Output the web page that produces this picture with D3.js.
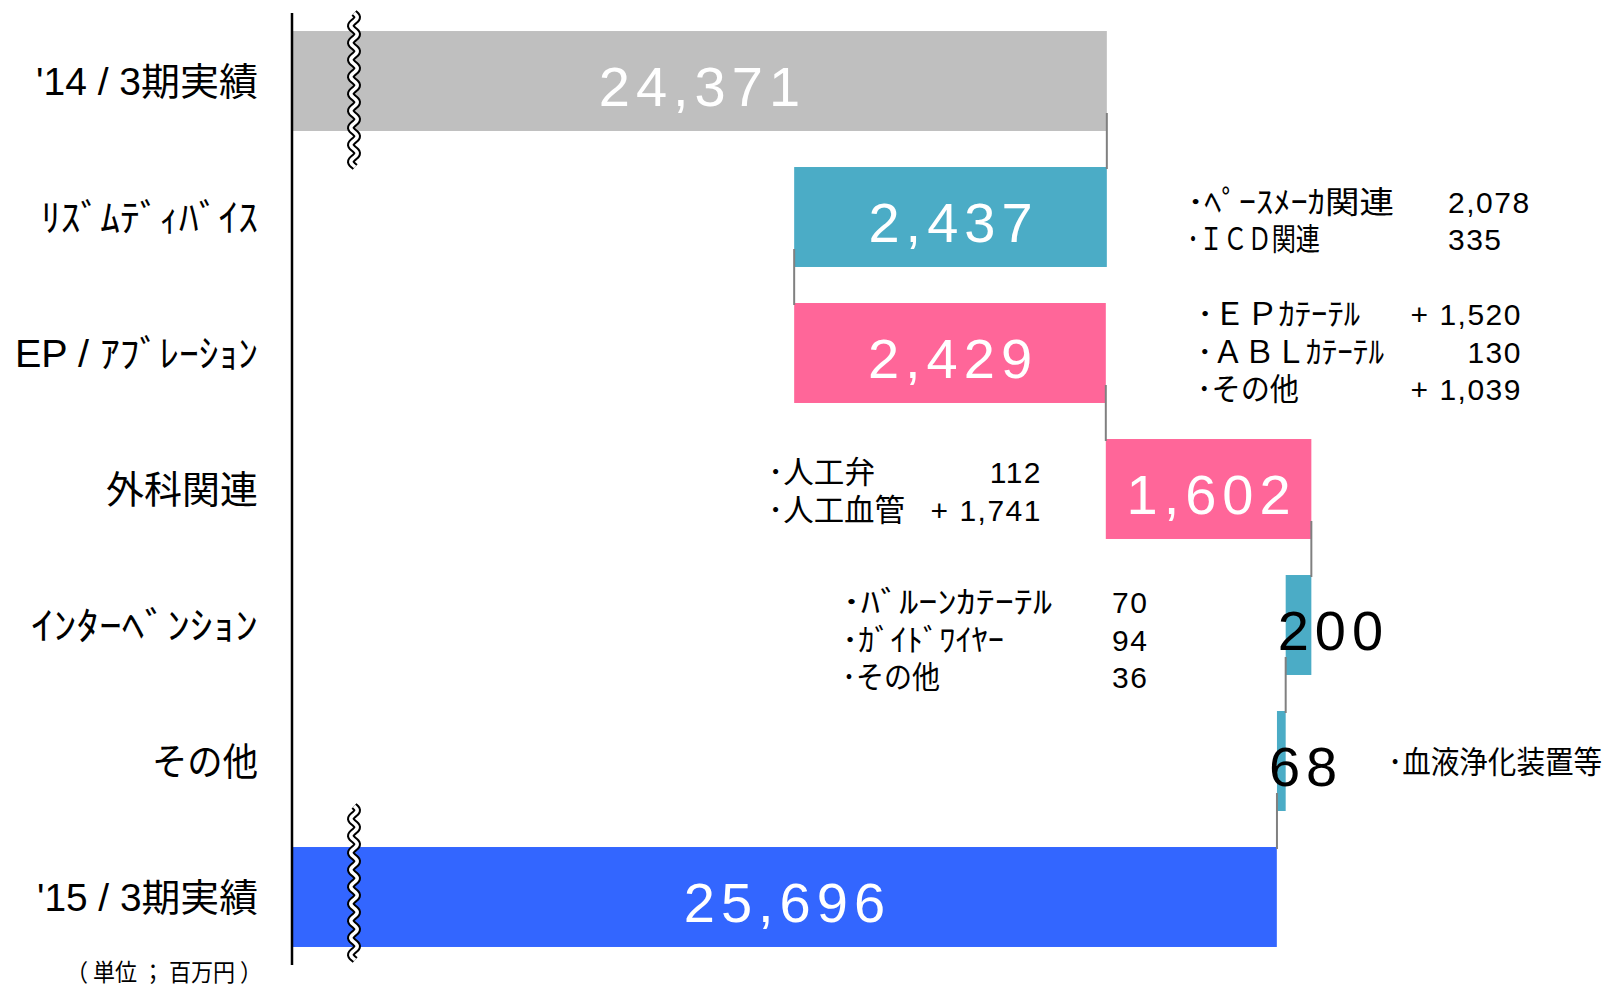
<!DOCTYPE html>
<html>
<head>
<meta charset="utf-8">
<script src="https://cdn.jsdelivr.net/npm/d3@7"></script>
<style>
  html, body { margin: 0; padding: 0; background: #ffffff; }
  svg { display: block; }
</style>
</head>
<body>
<svg id="chart" width="1608" height="987"></svg>
<script>
// ---------------- DATA ----------------
const categories = ["'14 / 3期実績", "ﾘｽﾞﾑﾃﾞｨﾊﾞｲｽ", "EP / ｱﾌﾞﾚｰｼｮﾝ", "外科関連", "ｲﾝﾀｰﾍﾞﾝｼｮﾝ", "その他", "'15 / 3期実績"];
const kinds = ["total", "decrease", "increase", "increase", "decrease", "decrease", "total"];
const values = [24371, 2437, 2429, 1602, 200, 68, 25696];
const subNames = [
  [],
  ["･ﾍﾟｰｽﾒｰｶ関連", "･ＩＣＤ関連"],
  ["･ＥＰｶﾃｰﾃﾙ", "･ＡＢＬｶﾃｰﾃﾙ", "･その他"],
  ["･人工弁", "･人工血管"],
  ["･ﾊﾞﾙｰﾝｶﾃｰﾃﾙ", "･ｶﾞｲﾄﾞﾜｲﾔｰ", "･その他"],
  ["･血液浄化装置等"],
  []
];
const subValues = [
  [],
  ["2,078", "335"],
  ["+ 1,520", "130", "+ 1,039"],
  ["112", "+ 1,741"],
  ["70", "94", "36"],
  [""],
  []
];
const unitLabel = "（ 単位 ； 百万円 ）";

// ---------------- STYLE / LAYOUT ----------------
const colors = { total0: "#bfbfbf", total1: "#3366ff", increase: "#ff6699", decrease: "#4bacc6" };
const svg = d3.select("#chart");

const x = d3.scaleLinear().domain([18020, 28000]).range([292, 292 + 9980 * 0.1283]);
const y = d3.scaleBand().domain(categories).range([13, 965]).paddingInner(0.265).paddingOuter(0.1325);
const bw = y.bandwidth();

// running totals
let cum = 0;
const bars = categories.map((c, i) => {
  let start, end;
  if (kinds[i] === "total") { start = x.domain()[0]; end = values[i]; cum = values[i]; }
  else if (kinds[i] === "increase") { start = cum; end = cum + values[i]; cum = end; }
  else { start = cum; end = cum - values[i]; cum = end; }
  return { cat: c, i, kind: kinds[i], start, end, value: values[i] };
});

function barColor(d) {
  if (d.kind === "total") return d.i === 0 ? colors.total0 : colors.total1;
  return colors[d.kind];
}

// bars
svg.append("g").selectAll("rect").data(bars).join("rect")
  .attr("x", d => x(Math.min(d.start, d.end)))
  .attr("y", d => y(d.cat))
  .attr("width", d => Math.abs(x(d.end) - x(d.start)))
  .attr("height", bw)
  .attr("fill", barColor);

// connectors
const conns = bars.slice(0, -1).map((d, i) => ({ from: d, to: bars[i + 1] }));
svg.append("g").selectAll("line").data(conns).join("line")
  .attr("x1", d => x(d.from.end)).attr("x2", d => x(d.from.end))
  .attr("y1", d => y(d.from.cat) + bw - 18)
  .attr("y2", d => y(d.to.cat) + 2)
  .attr("stroke", "#808080").attr("stroke-width", 2);

// break marks (wavy double line)
function wave(cx, y0, y1) {
  const pts = d3.range(y0, y1 + 0.5, 1).map(yy => [cx + 3.2 * Math.sin(2 * Math.PI * (yy - y0) / 17), yy]);
  return d3.line()(pts);
}
const breaks = [
  { cat: categories[0], top: -18, bottom: 36 },
  { cat: categories[6], top: -41, bottom: 13 }
];
const bx = x.range()[0] + 62;
breaks.forEach(b => {
  const p = wave(bx, y(b.cat) + b.top, y(b.cat) + bw + b.bottom);
  svg.append("path").attr("d", p).attr("fill", "none").attr("stroke", "#000").attr("stroke-width", 7.5);
  svg.append("path").attr("d", p).attr("fill", "none").attr("stroke", "#fff").attr("stroke-width", 3.5);
});

// value labels on bars
const fmt = d3.format(",");
svg.append("g").selectAll("text").data(bars).join("text")
  .attr("x", d => {
    const w = Math.abs(x(d.end) - x(d.start));
    const left = x(Math.min(d.start, d.end));
    return w > 100 ? left + w / 2 + 3 : left - 8;
  })
  .attr("y", d => y(d.cat) + bw / 2 + 25)
  .attr("text-anchor", d => Math.abs(x(d.end) - x(d.start)) > 100 ? "middle" : "start")
  .attr("fill", d => Math.abs(x(d.end) - x(d.start)) > 100 ? "#ffffff" : "#000000")
  .attr("font-family", "'Liberation Sans', Arial, sans-serif")
  .attr("font-size", 56)
  .attr("letter-spacing", 6)
  .text(d => fmt(d.value));

// axis line
svg.append("line")
  .attr("x1", x.range()[0]).attr("x2", x.range()[0])
  .attr("y1", y.range()[0]).attr("y2", y.range()[1])
  .attr("stroke", "#000").attr("stroke-width", 2.5);

// category labels
const catWidths = [222, 217, 243, 152, 227, 106, 221];
svg.append("g").selectAll("text").data(categories).join("text")
  .attr("x", 258)
  .attr("y", d => y(d) + bw / 2 + 14)
  .attr("text-anchor", "end")
  .attr("font-family", "'Liberation Sans', 'Noto Sans CJK JP', sans-serif")
  .attr("font-size", 38)
  .attr("fill", "#000")
  .attr("textLength", (d, i) => catWidths[i])
  .attr("lengthAdjust", "spacingAndGlyphs")
  .text(d => d);

// unit label
svg.append("text")
  .attr("x", 262).attr("y", 981)
  .attr("text-anchor", "end")
  .attr("font-family", "'Noto Sans CJK JP', sans-serif")
  .attr("font-size", 24)
  .attr("textLength", 196)
  .attr("lengthAdjust", "spacingAndGlyphs")
  .text(unitLabel);

// breakdown annotations
const annLayout = {
  1: { nameX: 1187, valueX: 1448, anchor: "start", y0: -4.5, widths: [207, 133] },
  2: { nameX: 1197, valueX: 1522, anchor: "end", y0: -28, widths: [163, 187, 102] },
  3: { nameX: 768, valueX: 1042, anchor: "end", y0: -5.7, widths: [107, 137] },
  4: { nameX: 842, valueX: 1112, anchor: "start", y0: -11.7, widths: [210, 162, 98] },
  5: { nameX: 1388, valueX: 0, anchor: "start", y0: 12.3, widths: [214] }
};
const lineH = 37.5;
categories.forEach((c, i) => {
  const L = annLayout[i];
  if (!L) return;
  const cy = y(c) + bw / 2;
  const g = svg.append("g");
  g.selectAll("text.name").data(subNames[i]).join("text").attr("class", "name")
    .attr("x", L.nameX)
    .attr("y", (d, k) => cy + L.y0 + k * lineH)
    .attr("font-family", "'Noto Sans CJK JP', sans-serif")
    .attr("font-size", 31)
    .attr("textLength", (d, k) => L.widths[k])
    .attr("lengthAdjust", "spacingAndGlyphs")
    .text(d => d);
  g.selectAll("text.val").data(subValues[i].filter(v => v !== "")).join("text").attr("class", "val")
    .attr("x", L.valueX)
    .attr("y", (d, k) => cy + L.y0 + k * lineH)
    .attr("text-anchor", L.anchor)
    .attr("font-family", "'Liberation Sans', Arial, sans-serif")
    .attr("font-size", 30)
    .attr("letter-spacing", 1.5)
    .text(d => d);
});
</script>
</body>
</html>
